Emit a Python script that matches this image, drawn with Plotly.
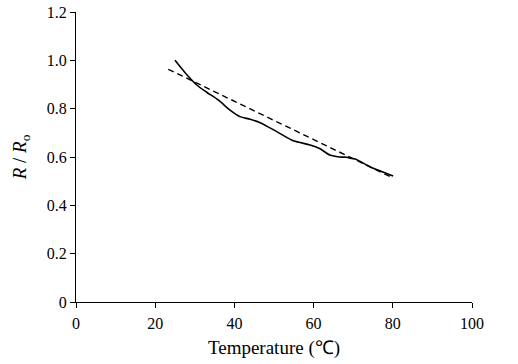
import plotly.graph_objects as go

# Measured R/Ro (solid curve)
temp_meas = [25.0, 27.5, 30.5, 33.0, 35.9, 38.9, 41.4, 44.0, 46.5, 50.7, 54.9, 59.1, 61.5, 64.1, 66.5, 68.4, 69.2, 70.5, 74.2, 77.0, 80.1]
r_meas = [1.0, 0.95, 0.898, 0.868, 0.836, 0.794, 0.767, 0.756, 0.742, 0.705, 0.667, 0.650, 0.635, 0.608, 0.600, 0.599, 0.595, 0.592, 0.56, 0.541, 0.521]

# Linear fit (dashed)
temp_fit = [23.3, 79.7]
r_fit = [0.963, 0.516]

x_ticks = [0, 20, 40, 60, 80, 100]
y_ticks = [0, 0.2, 0.4, 0.6, 0.8, 1.0, 1.2]
y_tick_text = ["0", "0.2", "0.4", "0.6", "0.8", "1.0", "1.2"]

fig = go.Figure()
fig.add_trace(go.Scatter(x=temp_meas, y=r_meas, mode="lines",
                         line=dict(color="black", width=1.6, shape="spline", smoothing=0.8),
                         showlegend=False))
fig.add_trace(go.Scatter(x=temp_fit, y=r_fit, mode="lines",
                         line=dict(color="black", width=1.4, dash="6px,4px"),
                         showlegend=False))

font = dict(family="Liberation Serif, Times New Roman, serif", size=16, color="black")
fig.update_layout(
    width=518, height=364,
    margin=dict(l=76, r=46, t=12, b=62),
    paper_bgcolor="white", plot_bgcolor="white",
    font=font,
    xaxis=dict(range=[0, 100], tickvals=x_ticks, ticks="outside", ticklen=5,
               showline=True, linecolor="black", linewidth=1.2, showgrid=False,
               zeroline=False, tickcolor="black", automargin=False,
               ticklabelstandoff=2, ticklabeloverflow="allow",
               title=dict(text="Temperature (\u2103)", standoff=9)),
    yaxis=dict(range=[0, 1.2], tickvals=y_ticks, ticktext=y_tick_text, ticks="outside",
               ticklen=5, showline=True, linecolor="black", linewidth=1.2,
               showgrid=False, zeroline=False, tickcolor="black", automargin=False,
               ticklabeloverflow="allow",
               title=dict(text="<i>R</i> / <i>R</i><sub>o</sub>", standoff=15)),
)
# remove the browser's default 8px body margin so the figure fills the window
fig.write_html("out.html", config={"displayModeBar": False},
               post_script="document.body.style.margin='0';document.body.style.overflow='hidden';")
